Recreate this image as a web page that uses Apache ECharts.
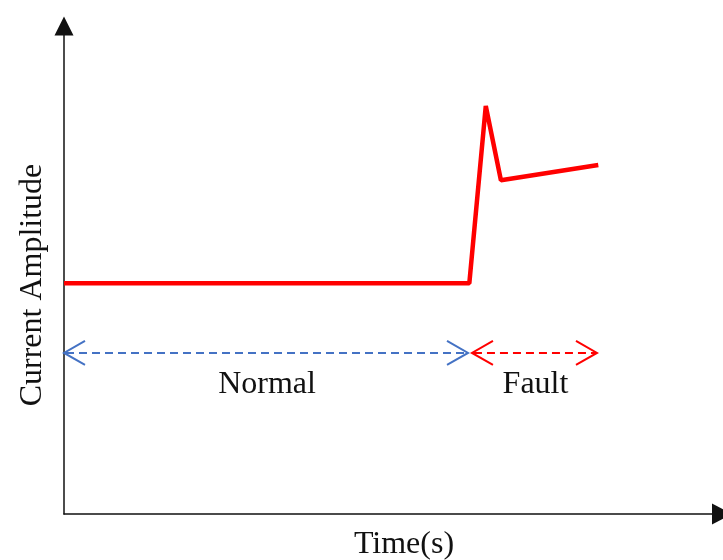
<!DOCTYPE html>
<html>
<head>
<meta charset="utf-8">
<script src="https://cdn.jsdelivr.net/npm/echarts@6/dist/echarts.min.js"></script>
<style>html,body{margin:0;padding:0;background:#fff}#c{width:723px;height:560px}</style>
</head>
<body>
<div id="c"></div>
<script>
// Current waveform (x: time units, y: amplitude units)
const timeValues = [0, 6.16, 6.41, 6.64, 8.12];
const currentValues = [4.73, 4.73, 8.36, 6.84, 7.15];
// Period annotations
const periodNames = ['Normal', 'Fault'];
const periodStarts = [0, 6.20];
const periodEnds = [6.14, 8.10];
const periodLevel = [3.30, 3.30];
const periodColors = ['#4472C4', '#FF0000'];
const xTitle = 'Time(s)';
const yTitle = 'Current Amplitude';

const FONT = "'Liberation Serif','Times New Roman',serif";
const chart = echarts.init(document.getElementById('c'));

const periodData = periodNames.map((n, i) => [periodStarts[i], periodEnds[i], periodLevel[i], i]);

chart.setOption({
  animation: false,
  grid: {left: 64, right: 1, top: 26, bottom: 46},
  xAxis: {
    type: 'value', min: 0, max: 10,
    axisLine: {show: true, lineStyle: {color: '#111', width: 1.5}, symbol: ['none', 'triangle'], symbolSize: [21, 20]},
    axisTick: {show: false}, axisLabel: {show: false}, splitLine: {show: false}
  },
  yAxis: {
    type: 'value', min: 0, max: 10,
    axisLine: {show: true, lineStyle: {color: '#111', width: 1.5}, symbol: ['none', 'triangle'], symbolSize: [19, 19]},
    axisTick: {show: false}, axisLabel: {show: false}, splitLine: {show: false}
  },
  graphic: [
    {type: 'text', x: 404, y: 545, style: {text: xTitle, font: '32px ' + FONT, fill: '#111', align: 'center', verticalAlign: 'middle'}},
    {type: 'text', x: 33, y: 285, rotation: Math.PI / 2, style: {text: yTitle, font: '32px ' + FONT, fill: '#111', align: 'center', verticalAlign: 'middle'}}
  ],
  series: [
    {
      type: 'line',
      data: timeValues.map((t, i) => [t, currentValues[i]]),
      symbol: 'none',
      lineStyle: {color: '#FF0000', width: 4.5},
      z: 5
    },
    {
      type: 'custom',
      data: periodData,
      renderItem: function (params, api) {
        const s = api.value(0), e = api.value(1), y = api.value(2), idx = api.value(3);
        const p0 = api.coord([s, y]);
        const p1 = api.coord([e, y]);
        const c = periodColors[idx];
        const w = 21, h = 12;
        return {
          type: 'group',
          children: [
            {type: 'line', shape: {x1: p0[0] + 2, y1: p0[1], x2: p1[0] - 2, y2: p1[1]},
             style: {stroke: c, lineWidth: 2, lineDash: [8, 5]}},
            {type: 'polyline', shape: {points: [[p0[0] + w, p0[1] - h], [p0[0], p0[1]], [p0[0] + w, p0[1] + h]]},
             style: {stroke: c, lineWidth: 2, fill: null}},
            {type: 'polyline', shape: {points: [[p1[0] - w, p1[1] - h], [p1[0], p1[1]], [p1[0] - w, p1[1] + h]]},
             style: {stroke: c, lineWidth: 2, fill: null}},
            {type: 'text', x: (p0[0] + p1[0]) / 2 + 1, y: p0[1] + 32,
             style: {text: periodNames[idx], font: '32px ' + FONT, fill: '#111', align: 'center', verticalAlign: 'middle'}}
          ]
        };
      }
    }
  ]
});
</script>
</body>
</html>
